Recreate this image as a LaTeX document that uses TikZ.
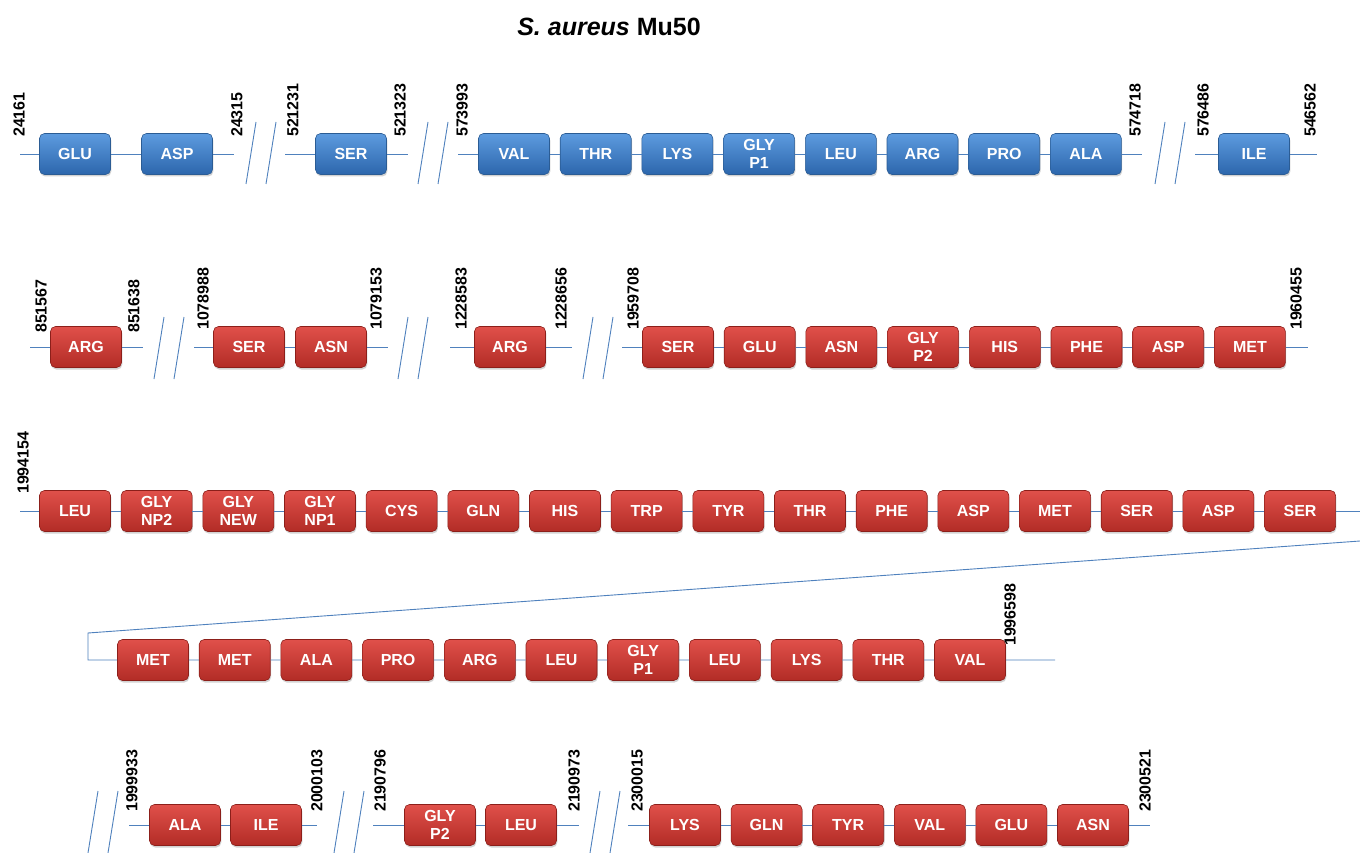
\documentclass[tikz,border=0pt]{standalone}
\usepackage{fontspec}
\setmainfont{Liberation Sans}
\usetikzlibrary{shadows}
\definecolor{lnblue}{HTML}{4F81BD}
\definecolor{btop}{HTML}{5D9BDF}
\definecolor{bbot}{HTML}{2C66AC}
\definecolor{bdraw}{HTML}{2B5C94}
\definecolor{rtop}{HTML}{E0504A}
\definecolor{rbot}{HTML}{B22C26}
\definecolor{rdraw}{HTML}{8C1F1A}
\tikzset{
  box/.style={rounded corners=5pt, minimum width=71pt, minimum height=41pt, inner sep=0pt,
    text=white, align=center, line width=0.6pt,
    font=\fontsize{16}{18}\selectfont\bfseries,
    drop shadow={opacity=0.35, shadow xshift=0.8pt, shadow yshift=-2pt}},
  bbox/.style={box, draw=bdraw, top color=btop, bottom color=bbot},
  rbox/.style={box, draw=rdraw, top color=rtop, bottom color=rbot},
  num/.style={rotate=90, anchor=west, inner sep=0pt, font=\fontsize{16}{16}\selectfont\bfseries},
  seq/.style={draw=lnblue, line width=0.9pt},
  brkline/.style={draw=lnblue, line width=0.9pt}
}
\newcommand\brkpair[2]{%
  \draw[brkline] (#1-5,#2-31) -- (#1-15,#2+31);
  \draw[brkline] (#1+15,#2-31) -- (#1+5,#2+31);}
\begin{document}
\begin{tikzpicture}[x=1pt,y=-1pt]
\fill[white] (0,0) rectangle (1360,853);
\useasboundingbox (0,0) rectangle (1360,853);

\node (title) at (609,27) {\fontsize{25}{28}\selectfont\bfseries{\itshape S. aureus} Mu50};

% ---------- Row 1 ----------
\coordinate (a0) at (20,154); \coordinate (a3) at (234,154);
\node[bbox] (a1) at (75,154) {GLU};
\node[bbox] (a2) at (177,154) {ASP};
\draw[seq] (a0) -- (a1) -- (a2) -- (a3);
\node[num] (la1) at (19,137) {24161};
\node[num] (la2) at (237,137) {24315};
\brkpair{261}{153}
\coordinate (b0) at (285,154); \coordinate (b2) at (408,154);
\node[bbox] (b1) at (351,154) {SER};
\draw[seq] (b0) -- (b1) -- (b2);
\node[num] (lb1) at (293,137) {521231};
\node[num] (lb2) at (400,137) {521323};
\brkpair{433}{153}
\coordinate (c0) at (458,154); \coordinate (c9) at (1142,154);
\foreach \t [count=\i] in {VAL,THR,LYS,{GLY\\P1},LEU,ARG,PRO,ALA}
  \node[bbox] (c\i) at ({514+81.7*(\i-1)},154) {\t};
\draw[seq] (c0) -- (c1) -- (c2) -- (c3) -- (c4) -- (c5) -- (c6) -- (c7) -- (c8) -- (c9);
\node[num] (lc1) at (462,137) {573993};
\node[num] (lc2) at (1135,137) {574718};
\brkpair{1170}{153}
\coordinate (d0) at (1195,154); \coordinate (d2) at (1317,154);
\node[bbox] (d1) at (1254,154) {ILE};
\draw[seq] (d0) -- (d1) -- (d2);
\node[num] (ld1) at (1203,137) {576486};
\node[num] (ld2) at (1310,137) {546562};

% ---------- Row 2 ----------
\coordinate (e0) at (30,347); \coordinate (e2) at (143,347);
\node[rbox] (e1) at (86,347) {ARG};
\draw[seq] (e0) -- (e1) -- (e2);
\node[num] (le1) at (41,333) {851567};
\node[num] (le2) at (134,333) {851638};
\brkpair{169}{348}
\coordinate (f0) at (194,347); \coordinate (f3) at (388,347);
\node[rbox] (f1) at (249,347) {SER};
\node[rbox] (f2) at (331,347) {ASN};
\draw[seq] (f0) -- (f1) -- (f2) -- (f3);
\node[num] (lf1) at (203,330) {1078988};
\node[num] (lf2) at (376,330) {1079153};
\brkpair{413}{348}
\coordinate (g0) at (450,347); \coordinate (g2) at (572,347);
\node[rbox] (g1) at (510,347) {ARG};
\draw[seq] (g0) -- (g1) -- (g2);
\node[num] (lg1) at (461,330) {1228583};
\node[num] (lg2) at (561,330) {1228656};
\brkpair{598}{348}
\coordinate (h0) at (622,347); \coordinate (h9) at (1308,347);
\foreach \t [count=\i] in {SER,GLU,ASN,{GLY\\P2},HIS,PHE,ASP,MET}
  \node[rbox] (h\i) at ({678+81.7*(\i-1)},347) {\t};
\draw[seq] (h0) -- (h1) -- (h2) -- (h3) -- (h4) -- (h5) -- (h6) -- (h7) -- (h8) -- (h9);
\node[num] (lh1) at (633,330) {1959708};
\node[num] (lh2) at (1296,330) {1960455};

% ---------- Row 3 ----------
\coordinate (i0) at (20,511); \coordinate (i17) at (1360,511);
\foreach \t [count=\i] in {LEU,{GLY\\NP2},{GLY\\NEW},{GLY\\NP1},CYS,GLN,HIS,TRP,TYR,THR,PHE,ASP,MET,SER,ASP,SER}
  \node[rbox] (i\i) at ({75+81.67*(\i-1)},511) {\t};
\draw[seq] (i0) -- (i1) -- (i2) -- (i3) -- (i4) -- (i5) -- (i6) -- (i7) -- (i8) -- (i9)
  -- (i10) -- (i11) -- (i12) -- (i13) -- (i14) -- (i15) -- (i16) -- (i17);
\node[num] (li1) at (23,494) {1994154};

% ---------- Row 4 ----------
\coordinate (j0) at (1360,541); \coordinate (j1) at (88,633); \coordinate (j2) at (88,660);
\coordinate (k12) at (1055,660);
\foreach \t [count=\i] in {MET,MET,ALA,PRO,ARG,LEU,{GLY\\P1},LEU,LYS,THR,VAL}
  \node[rbox] (k\i) at ({153+81.7*(\i-1)},660) {\t};
\draw[seq] (j0) -- (j1) -- (j2) -- (k1) -- (k2) -- (k3) -- (k4) -- (k5) -- (k6) -- (k7)
  -- (k8) -- (k9) -- (k10) -- (k11) -- (k12);
\node[num] (lk1) at (1010,646) {1996598};

% ---------- Row 5 ----------
\brkpair{103}{822}
\coordinate (m0) at (129,825); \coordinate (m3) at (317,825);
\node[rbox] (m1) at (185,825) {ALA};
\node[rbox] (m2) at (266,825) {ILE};
\draw[seq] (m0) -- (m1) -- (m2) -- (m3);
\node[num] (lm1) at (132,812) {1999933};
\node[num] (lm2) at (317,812) {2000103};
\brkpair{349}{822}
\coordinate (n0) at (373,825); \coordinate (n3) at (579,825);
\node[rbox] (n1) at (440,825) {GLY\\P2};
\node[rbox] (n2) at (521,825) {LEU};
\draw[seq] (n0) -- (n1) -- (n2) -- (n3);
\node[num] (ln1) at (380,812) {2190796};
\node[num] (ln2) at (574,812) {2190973};
\brkpair{605}{822}
\coordinate (o0) at (628,825); \coordinate (o7) at (1150,825);
\foreach \t [count=\i] in {LYS,GLN,TYR,VAL,GLU,ASN}
  \node[rbox] (o\i) at ({685+81.6*(\i-1)},825) {\t};
\draw[seq] (o0) -- (o1) -- (o2) -- (o3) -- (o4) -- (o5) -- (o6) -- (o7);
\node[num] (lo1) at (637,812) {2300015};
\node[num] (lo2) at (1145,812) {2300521};
\end{tikzpicture}
\end{document}
